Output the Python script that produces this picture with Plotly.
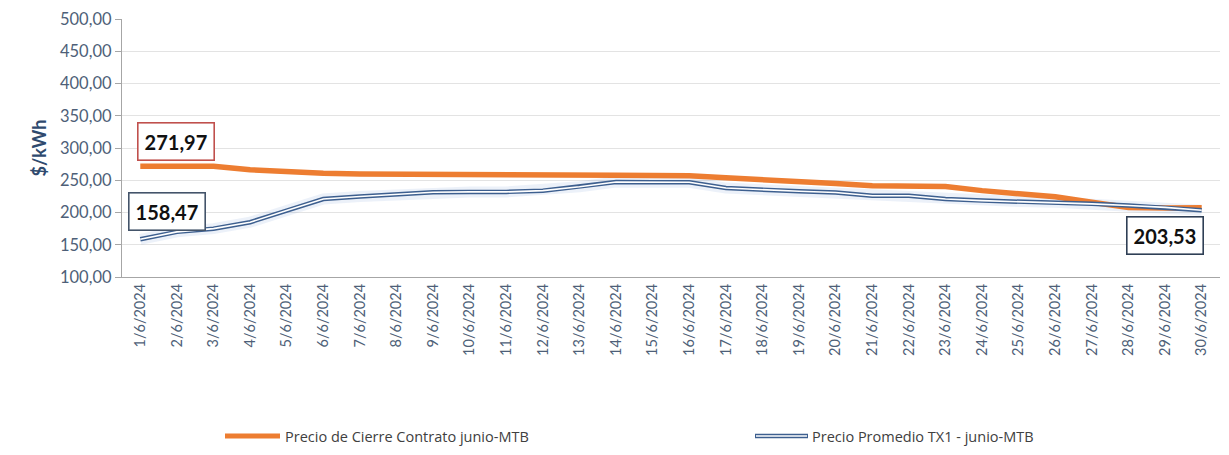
import plotly.graph_objects as go

fechas = [f"{d}/6/2024" for d in range(1, 31)]

precio_cierre = [271.97, 271.97, 271.97, 266.5, 263.0, 261.0, 260.0, 260.0, 260.0, 259.5,
                 258.5, 258.0, 258.0, 258.0, 257.5, 257.0, 254.0, 251.5, 248.0, 245.0,
                 241.5, 241.0, 240.5, 234.0, 228.5, 224.5, 216.0, 208.0, 207.0, 207.5]

precio_promedio = [158.47, 170.0, 175.0, 185.0, 203.0, 221.0, 225.0, 228.0, 231.5, 232.0,
                   232.0, 234.0, 240.0, 247.5, 247.0, 247.0, 238.0, 235.0, 233.0, 231.0,
                   226.0, 226.0, 221.0, 218.5, 217.0, 216.0, 213.5, 211.0, 208.0, 203.53]

nombre_cierre = "Precio de Cierre Contrato junio-MTB"
nombre_promedio = "Precio Promedio TX1 - junio-MTB"

naranja = "#ED7D31"
azul = "#3D5F8F"
texto = "#4E5F78"
fuente = "Lato, 'Open Sans', sans-serif"

fig = go.Figure()

# sombra suave bajo la linea azul
fig.add_trace(go.Scatter(x=fechas, y=precio_promedio, mode="lines",
                         line=dict(color="rgba(68,114,196,0.10)", width=11),
                         hoverinfo="skip", showlegend=False))
fig.add_trace(go.Scatter(x=fechas, y=precio_cierre, mode="lines", name=nombre_cierre,
                         line=dict(color=naranja, width=5.5), showlegend=False))
# linea doble: azul ancha con centro blanco
fig.add_trace(go.Scatter(x=fechas, y=precio_promedio, mode="lines", name=nombre_promedio,
                         line=dict(color=azul, width=4.5), showlegend=False))
fig.add_trace(go.Scatter(x=fechas, y=precio_promedio, mode="lines",
                         line=dict(color="white", width=1.6),
                         hoverinfo="skip", showlegend=False))

def etiqueta(x, y, txt, borde, dx, dy):
    fig.add_annotation(x=x, y=y, text=f"<b>{txt}</b>", showarrow=False,
                       xshift=dx, yshift=dy, bgcolor="white", bordercolor=borde,
                       borderwidth=1.6, borderpad=6,
                       font=dict(family="Lato, sans-serif", size=20, color="#111111"))

etiqueta(fechas[0], precio_cierre[0], "271,97", "#C0504D", 36, 25)
etiqueta(fechas[0], precio_promedio[0], "158,47", "#44546A", 27, 28)
etiqueta(fechas[-1], precio_promedio[-1], "203,53", "#2F3F55", -37, -25)

# leyenda manual (la linea azul es doble)
ley_y = -0.6163
ancho = 1098

def muestra(x0, x1, color, w):
    fig.add_shape(type="line", xref="paper", yref="paper", x0=(x0 - 122) / ancho,
                  x1=(x1 - 122) / ancho, y0=ley_y, y1=ley_y, line=dict(color=color, width=w))

muestra(225, 280, naranja, 5)
muestra(755, 808, azul, 4.5)
muestra(756, 807, "white", 1.6)
for x_txt, nombre in [(283, nombre_cierre), (810, nombre_promedio)]:
    fig.add_annotation(xref="paper", yref="paper", x=(x_txt - 122) / ancho, y=ley_y,
                       xanchor="left", yanchor="middle", showarrow=False, text=nombre,
                       font=dict(family="'Open Sans', sans-serif", size=14.5, color="#404040"))

# la pagina tiene 8px de margen en body: se compensa en los margenes
fig.update_layout(
    width=1229, height=455,
    margin=dict(l=114, r=17, t=11, b=186),
    plot_bgcolor="white", paper_bgcolor="white",
    separators=",.",
    font=dict(family=fuente, color=texto),
    showlegend=False,
    xaxis=dict(type="category", range=[-0.5, 29.5], tickangle=-90, automargin=False,
               tickfont=dict(size=14.5, color=texto), showgrid=False,
               showline=True, linecolor="#A6A6A6", linewidth=1.2, ticks=""),
    yaxis=dict(range=[100, 500.3], dtick=50, tickformat=".2f", automargin=False,
               ticklabeloverflow="allow",
               tickfont=dict(size=16.5, color=texto),
               showgrid=True, gridcolor="#E3E3E3", gridwidth=1,
               showline=True, linecolor="#A6A6A6", linewidth=1.2,
               ticks="outside", ticklen=6, tickcolor="#A6A6A6",
               title=dict(text="<b>$/kWh</b>", standoff=8,
                          font=dict(size=18, color="#2F4A6E"))),
)

fig.write_html("out.html")
